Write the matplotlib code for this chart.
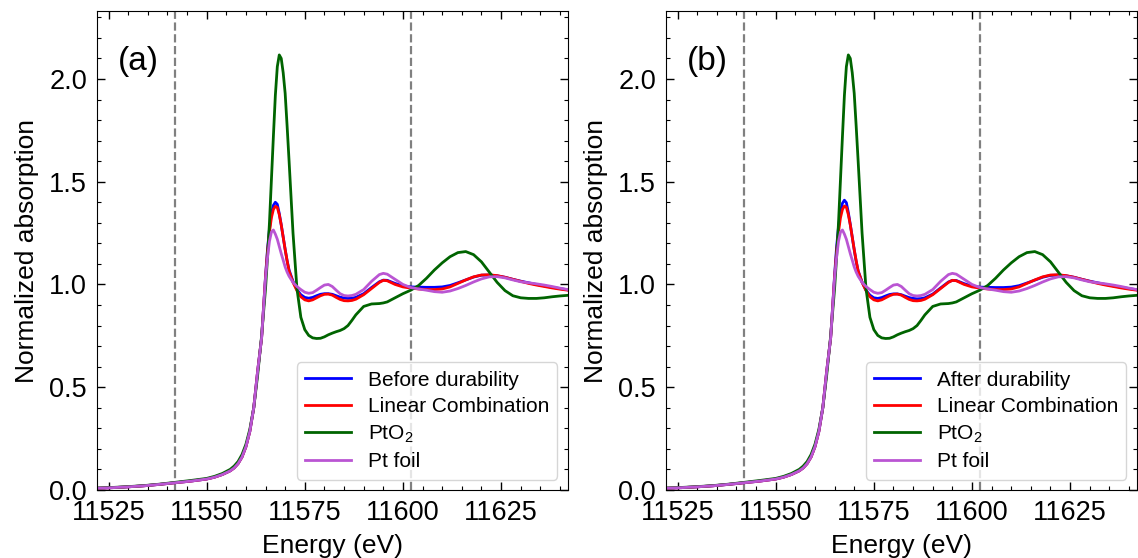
import numpy as np
import matplotlib
matplotlib.use('Agg')
import matplotlib.pyplot as plt
from matplotlib.ticker import MultipleLocator

plt.rcParams['font.family'] = ['Liberation Sans', 'DejaVu Sans']
plt.rcParams['mathtext.fontset'] = 'custom'
plt.rcParams['mathtext.rm'] = 'Liberation Sans'

# energy grid (eV)
energy = [11522, 11526, 11530, 11534, 11538, 11542, 11546, 11550, 11552, 11554,
          11556, 11557, 11558, 11559, 11560, 11561, 11562, 11563, 11564,
          11565, 11565.5, 11566, 11566.5, 11567, 11567.5, 11568, 11568.5,
          11569, 11569.5, 11570, 11570.5, 11571,
          11572, 11573, 11574, 11575, 11576, 11577, 11578, 11579, 11580,
          11581, 11582, 11583, 11584, 11585, 11586, 11587, 11588, 11590,
          11592, 11594, 11595, 11596, 11598, 11600, 11602, 11604, 11606,
          11608, 11610, 11612, 11614, 11616, 11618, 11620, 11622, 11624,
          11626, 11628, 11630, 11632, 11634, 11636, 11638, 11640, 11642]

pre_edge = [0.008, 0.011, 0.015, 0.020, 0.027, 0.035, 0.043, 0.053, 0.062, 0.075,
            0.093, 0.107, 0.128, 0.160, 0.210, 0.285, 0.400, 0.580, 0.740]

before_dur = pre_edge + [
    1.040, 1.170, 1.270, 1.345, 1.385, 1.400, 1.390, 1.345,
    1.290, 1.230, 1.170, 1.115, 1.070,
    1.015, 0.975, 0.950, 0.937, 0.933, 0.937, 0.945, 0.952, 0.955,
    0.955, 0.952, 0.945, 0.938, 0.934, 0.932, 0.933, 0.937, 0.955,
    0.985, 1.013, 1.021, 1.020, 1.005, 0.993, 0.988, 0.987, 0.986,
    0.986, 0.988, 0.995, 1.008, 1.022, 1.036, 1.045, 1.046, 1.042,
    1.035, 1.025, 1.016, 1.008, 1.000, 0.993, 0.986, 0.980, 0.974]

after_dur = pre_edge + [
    1.045, 1.180, 1.280, 1.355, 1.395, 1.410, 1.398, 1.350,
    1.292, 1.230, 1.168, 1.112, 1.066,
    1.012, 0.972, 0.948, 0.935, 0.932, 0.936, 0.944, 0.951, 0.954,
    0.954, 0.950, 0.943, 0.936, 0.932, 0.930, 0.931, 0.935, 0.953,
    0.983, 1.012, 1.020, 1.019, 1.004, 0.992, 0.987, 0.986, 0.985,
    0.985, 0.987, 0.994, 1.007, 1.021, 1.035, 1.044, 1.046, 1.042,
    1.035, 1.025, 1.016, 1.008, 1.000, 0.993, 0.986, 0.980, 0.974]

lin_comb_a = pre_edge + [
    1.035, 1.160, 1.255, 1.325, 1.365, 1.380, 1.375, 1.340,
    1.290, 1.230, 1.170, 1.115, 1.065,
    1.010, 0.970, 0.940, 0.925, 0.920, 0.925, 0.935, 0.945, 0.952,
    0.953, 0.948, 0.937, 0.927, 0.921, 0.920, 0.922, 0.928, 0.950,
    0.980, 1.010, 1.020, 1.018, 1.000, 0.988, 0.982, 0.978, 0.975,
    0.975, 0.978, 0.988, 1.005, 1.022, 1.037, 1.046, 1.047, 1.043,
    1.035, 1.025, 1.015, 1.005, 0.997, 0.990, 0.983, 0.977, 0.972]

lin_comb_b = pre_edge + [
    1.035, 1.160, 1.255, 1.325, 1.365, 1.382, 1.376, 1.340,
    1.290, 1.230, 1.170, 1.115, 1.065,
    1.010, 0.970, 0.940, 0.925, 0.920, 0.925, 0.935, 0.945, 0.952,
    0.953, 0.948, 0.937, 0.927, 0.921, 0.920, 0.922, 0.928, 0.950,
    0.980, 1.010, 1.020, 1.018, 1.000, 0.988, 0.982, 0.978, 0.975,
    0.975, 0.978, 0.988, 1.005, 1.022, 1.037, 1.046, 1.047, 1.043,
    1.035, 1.025, 1.015, 1.005, 0.997, 0.990, 0.983, 0.977, 0.972]

pto2 = [0.009, 0.012, 0.016, 0.021, 0.028, 0.037, 0.046, 0.056, 0.066, 0.080,
        0.100, 0.116, 0.138, 0.172, 0.222, 0.295, 0.400, 0.560, 0.750,
        0.980, 1.130, 1.300, 1.510, 1.720, 1.920, 2.060, 2.117,
        2.100, 2.030, 1.930, 1.770, 1.600,
        1.250, 0.980, 0.840, 0.780, 0.752, 0.740, 0.737, 0.738, 0.745,
        0.755, 0.763, 0.770, 0.776, 0.785, 0.800, 0.825, 0.852, 0.893,
        0.905, 0.907, 0.910, 0.915, 0.935, 0.955, 0.972, 0.995, 1.030,
        1.070, 1.105, 1.135, 1.155, 1.160, 1.145, 1.110, 1.060, 1.010,
        0.970, 0.945, 0.935, 0.932, 0.932, 0.935, 0.940, 0.944, 0.947]

pt_foil = pre_edge + [
    1.030, 1.130, 1.210, 1.255, 1.265, 1.245, 1.220, 1.185,
    1.150, 1.118, 1.085, 1.060, 1.040,
    1.010, 0.990, 0.975, 0.962, 0.957, 0.960, 0.972, 0.985, 0.997,
    1.000, 0.990, 0.972, 0.955, 0.946, 0.944, 0.946, 0.952, 0.975,
    1.015, 1.048, 1.054, 1.050, 1.025, 1.000, 0.985, 0.978, 0.972,
    0.965, 0.962, 0.968, 0.980, 0.995, 1.012, 1.027, 1.037, 1.038,
    1.032, 1.022, 1.013, 1.008, 1.003, 0.997, 0.990, 0.982, 0.975]

fit_range = [11542, 11602]
panel_labels = ['(a)', '(b)']
sample_labels = ['Before durability', 'After durability']

fig, axes = plt.subplots(1, 2, figsize=(11.38, 5.58), dpi=100)
fig.subplots_adjust(left=0.085, right=0.999, bottom=0.122, top=0.98, wspace=0.208)

samples = [before_dur, after_dur]
fits = [lin_comb_a, lin_comb_b]

for i, ax in enumerate(axes):
    for e in fit_range:
        ax.axvline(e, color='gray', ls='--', lw=1.6)
    ax.plot(energy, samples[i], color='blue', lw=2, label=sample_labels[i])
    ax.plot(energy, fits[i], color='red', lw=2, label='Linear Combination')
    ax.plot(energy, pto2, color='darkgreen', lw=2, label='PtO$_2$')
    ax.plot(energy, pt_foil, color='mediumorchid', lw=2, label='Pt foil')

    ax.set_xlim(11522, 11642)
    ax.set_ylim(0, 2.33)
    ax.xaxis.set_major_locator(MultipleLocator(25))
    ax.xaxis.set_minor_locator(MultipleLocator(5))
    ax.yaxis.set_major_locator(MultipleLocator(0.5))
    ax.yaxis.set_minor_locator(MultipleLocator(0.1))
    ax.tick_params(which='both', direction='in', top=True, right=True, labelsize=19.5)
    ax.tick_params(which='major', length=6, width=1)
    ax.tick_params(axis='x', which='major', pad=7)
    ax.tick_params(axis='y', which='major', pad=7)
    ax.tick_params(which='minor', length=3, width=0.8)
    ax.set_xlabel('Energy (eV)', fontsize=19, labelpad=6)
    ax.set_ylabel('Normalized absorption', fontsize=19, labelpad=7)
    ax.text(0.045, 0.895, panel_labels[i], transform=ax.transAxes,
            fontsize=24, ha='left', va='center')
    ax.legend(loc='lower right', fontsize=15, handlelength=2.2,
              borderaxespad=0.5, labelspacing=0.35)

plt.savefig('out.png', dpi=100)
